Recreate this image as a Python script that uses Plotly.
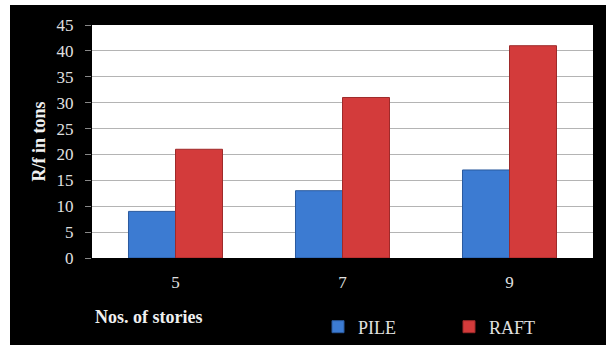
import plotly.graph_objects as go

categories = ["5", "7", "9"]
pile = [9, 13, 17]
raft = [21, 31, 41]
y_ticks = [0, 5, 10, 15, 20, 25, 30, 35, 40, 45]

FONT = "Liberation Serif, Times New Roman, serif"

fig = go.Figure()
fig.add_trace(go.Bar(x=categories, y=pile, name="PILE",
                     marker=dict(color="#3c7bd2", line=dict(color="#2a5a9e", width=1))))
fig.add_trace(go.Bar(x=categories, y=raft, name="RAFT",
                     marker=dict(color="#d33b3b", line=dict(color="#9e2a2a", width=1))))

fig.update_layout(
    width=606, height=345,
    margin=dict(l=92, r=13, t=25, b=87, autoexpand=False),
    paper_bgcolor="black",
    plot_bgcolor="white",
    bargap=0.437, bargroupgap=0,
    barmode="group",
    font=dict(family=FONT, color="#e8e8e8", size=14),
    showlegend=True,
    legend=dict(orientation="h", x=(318 - 92) / 501, xanchor="left",
                y=-(327 - 258) / 233, yanchor="middle",
                font=dict(family=FONT, size=18, color="#e0e0e0"),
                entrywidth=86, entrywidthmode="pixels",
                bgcolor="rgba(0,0,0,0)", itemclick=False),
    xaxis=dict(type="category", showgrid=False, ticks="", showline=False,
               tickfont=dict(family=FONT, size=17, color="#e0e0e0"),
               ticklabelstandoff=12),
    yaxis=dict(range=[0, 45], tickvals=y_ticks, showgrid=True, gridcolor="#b4b4b4",
               gridwidth=1, ticks="outside", ticklen=6, tickcolor="#888888",
               zeroline=False, showline=False,
               tickfont=dict(family=FONT, size=17, color="#e0e0e0"),
               ticklabelstandoff=8),
    shapes=[
        dict(type="rect", xref="paper", yref="paper", x0=-0.3, x1=(10 - 92) / 501,
             y0=-0.5, y1=1.2, fillcolor="white", line=dict(width=0), layer="below"),
        dict(type="rect", xref="paper", yref="paper", x0=-0.3, x1=1.1,
             y0=(258 - 5) / 233, y1=1.2, fillcolor="white", line=dict(width=0), layer="below"),
    ],
    annotations=[
        dict(text="<b>R/f in tons</b>", xref="paper", yref="paper", x=(38 - 92) / 501, y=0.5,
             xanchor="center", yanchor="middle", textangle=-90, showarrow=False,
             font=dict(family=FONT, size=18, color="#f0f0f0")),
        dict(text="<b>Nos. of stories</b>", xref="paper", yref="paper", x=(93 - 92) / 501,
             y=-(317 - 258) / 233, xanchor="left", yanchor="middle", showarrow=False,
             font=dict(family=FONT, size=18, color="#f0f0f0")),
    ],
)

fig.write_html("out.html")
